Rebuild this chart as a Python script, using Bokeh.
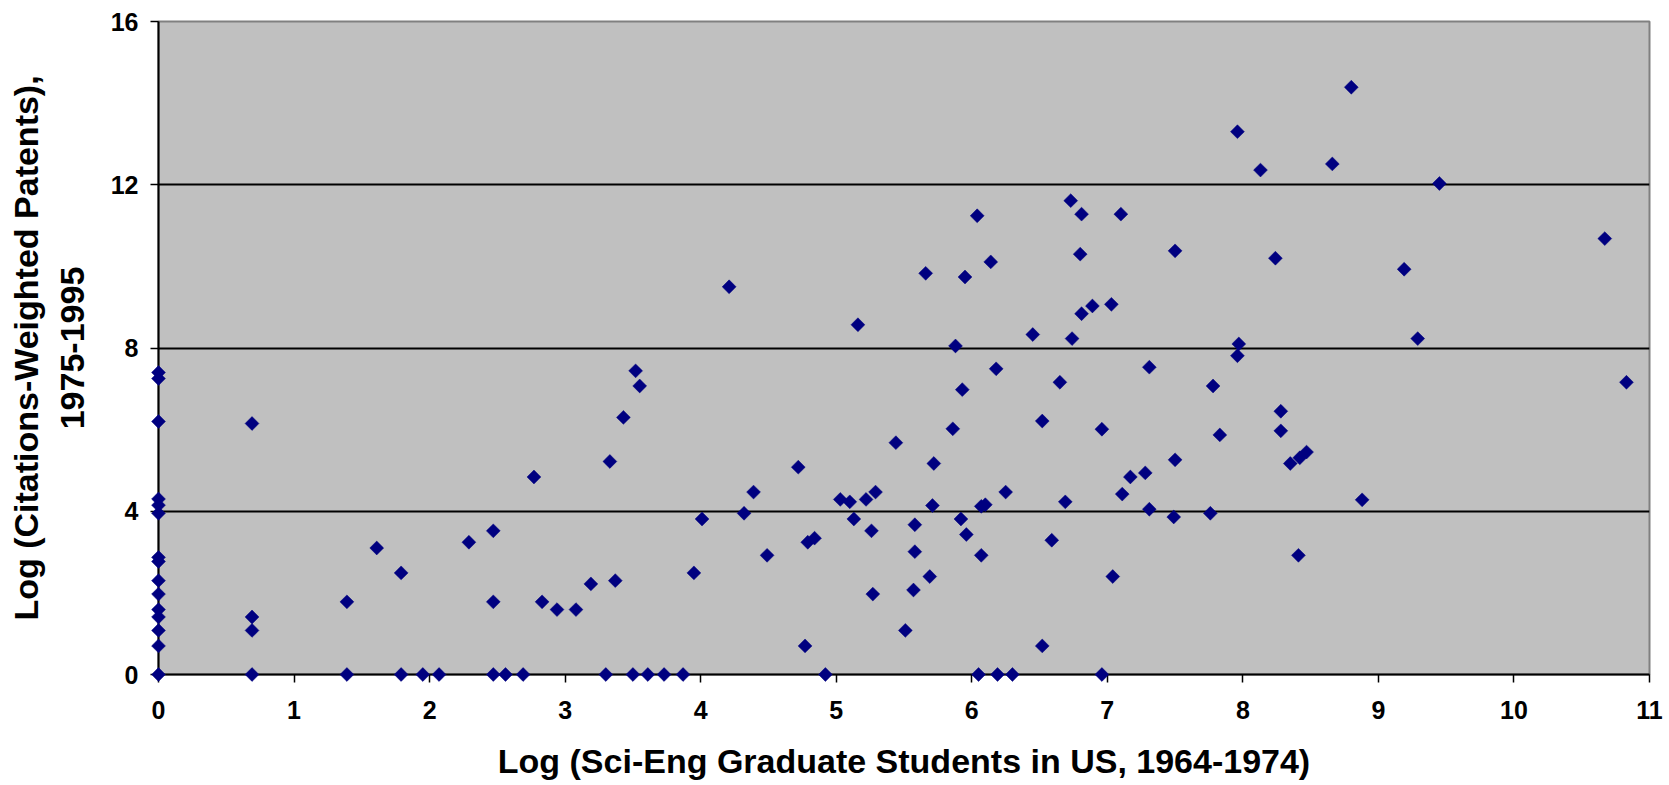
from bokeh.plotting import figure
from bokeh.models import Range1d, FixedTicker
from bokeh.embed import file_html
from bokeh.resources import INLINE
import math

# Log of science/engineering graduate students (x) vs log of citation-weighted patents (y)
grad_students_log = [
    0, 0, 0, 0, 0, 0, 0, 0, 0, 0, 0, 0, 0, 0, 0,
    0.69, 0.69, 0.69, 0.69,
    1.39, 1.39, 1.61, 1.79, 1.79, 1.95, 2.07, 2.29, 2.47, 2.47, 2.47,
    2.56, 2.69, 2.77, 2.83, 2.94, 3.08, 3.19, 3.30, 3.33, 3.37, 3.43,
    3.50, 3.52, 3.55, 3.61, 3.73, 3.87, 3.95, 4.01, 4.21, 4.32, 4.39,
    4.49, 4.72, 4.77, 4.79, 4.84, 4.92, 5.03, 5.10, 5.13, 5.16, 5.22,
    5.26, 5.27, 5.29, 5.44, 5.51, 5.57, 5.58, 5.58, 5.66, 5.69, 5.71,
    5.72, 5.86, 5.88, 5.92, 5.93, 5.95, 5.96, 6.04, 6.05, 6.07, 6.10,
    6.07, 6.14, 6.18, 6.19, 6.25, 6.30, 6.45, 6.52, 6.52, 6.59, 6.65,
    6.69, 6.73, 6.74, 6.80, 6.81, 6.81, 6.89, 6.96, 6.96, 7.03, 7.04,
    7.10, 7.11, 7.17, 7.28, 7.31, 7.31, 7.49, 7.50, 7.50, 7.76, 7.78,
    7.83, 7.96, 7.96, 7.97, 8.13, 8.24, 8.28, 8.28, 8.35, 8.41, 8.42,
    8.47, 8.66, 8.80, 8.88, 9.19, 9.29, 9.45, 10.67, 10.83,
]
patents_log = [
    7.40, 7.25, 6.20, 4.30, 4.15, 3.95, 2.87, 2.77, 2.30, 1.97, 1.59, 1.41, 1.08, 0.70, 0,
    6.15, 1.41, 1.08, 0,
    1.78, 0, 3.10, 2.49, 0, 0, 0, 3.24, 3.52, 1.78, 0,
    0, 0, 4.84, 1.78, 1.59, 1.59, 2.22, 0, 5.22, 2.30, 6.30,
    0, 7.44, 7.07, 0, 0, 0, 2.49, 3.81, 9.50, 3.95, 4.47,
    2.92, 5.08, 0.70, 3.24, 3.34, 0, 4.29, 4.23, 3.81, 8.57, 4.29,
    3.52, 1.97, 4.47, 5.68, 1.08, 2.07, 3.01, 3.67, 9.83, 2.40, 4.14,
    5.17, 6.02, 8.05, 3.81, 6.98, 9.74, 3.43, 11.24, 0, 4.12, 4.16,
    2.92, 10.11, 7.49, 0, 4.47, 0, 8.33, 6.21, 0.70, 3.29, 7.16,
    4.23, 11.61, 8.23, 10.30, 11.28, 8.84, 9.03, 6.01, 0, 9.07, 2.40,
    11.28, 4.42, 4.84, 4.94, 4.05, 7.53, 3.86, 5.26, 10.38, 3.95, 7.07,
    5.87, 13.30, 7.81, 8.10, 12.36, 10.20, 6.45, 5.97, 5.17, 2.92, 5.31,
    5.45, 12.51, 14.39, 4.28, 9.93, 8.23, 12.03, 10.68, 7.16,
]

x_ticks = [0, 1, 2, 3, 4, 5, 6, 7, 8, 9, 10, 11]
y_ticks = [0, 4, 8, 12, 16]
y_grid_lines = [4, 8, 12]

x_title = "Log (Sci-Eng Graduate Students in US, 1964-1974)"
y_title = "Log (Citations-Weighted Patents),\n1975-1995"

FONT = "Liberation Sans"

p = figure(
    width=1669, height=785,
    output_backend="svg", toolbar_location=None,
    x_range=Range1d(0, 11), y_range=Range1d(0, 16),
    min_border_left=158, min_border_right=20,
    min_border_top=21, min_border_bottom=111,
    background_fill_color="#C0C0C0", border_fill_color="white",
    outline_line_color="#808080", outline_line_width=2,
)

p.xaxis.ticker = FixedTicker(ticks=x_ticks)
p.yaxis.ticker = FixedTicker(ticks=y_ticks)
p.xaxis.axis_label = x_title
p.yaxis.axis_label = y_title

for ax in (p.xaxis, p.yaxis):
    ax.axis_line_color = "black"
    ax.axis_line_width = 2
    ax.major_tick_line_color = "black"
    ax.major_tick_line_width = 1.5
    ax.major_tick_in = 0
    ax.major_tick_out = 8
    ax.minor_tick_line_color = None
    ax.major_label_text_font = FONT
    ax.major_label_text_font_style = "bold"
    ax.major_label_text_font_size = "25px"
    ax.major_label_text_color = "black"
    ax.axis_label_text_font = FONT
    ax.axis_label_text_font_style = "bold"
    ax.axis_label_text_font_size = "34px"
    ax.axis_label_text_color = "black"

p.xaxis.major_label_standoff = 18
p.yaxis.major_label_standoff = 12
p.xaxis.axis_label_standoff = 20
p.yaxis.axis_label_standoff = 17

p.xgrid.visible = False
p.ygrid.ticker = FixedTicker(ticks=y_grid_lines)
p.ygrid.grid_line_color = "black"
p.ygrid.grid_line_width = 2

p.scatter(
    x=grad_students_log, y=patents_log,
    marker="square", size=9.8, angle=math.pi / 4,
    fill_color="#000080", line_color="#000080", line_width=0.5,
    level="overlay",
)

open("out.html", "w").write(file_html(p, INLINE))
